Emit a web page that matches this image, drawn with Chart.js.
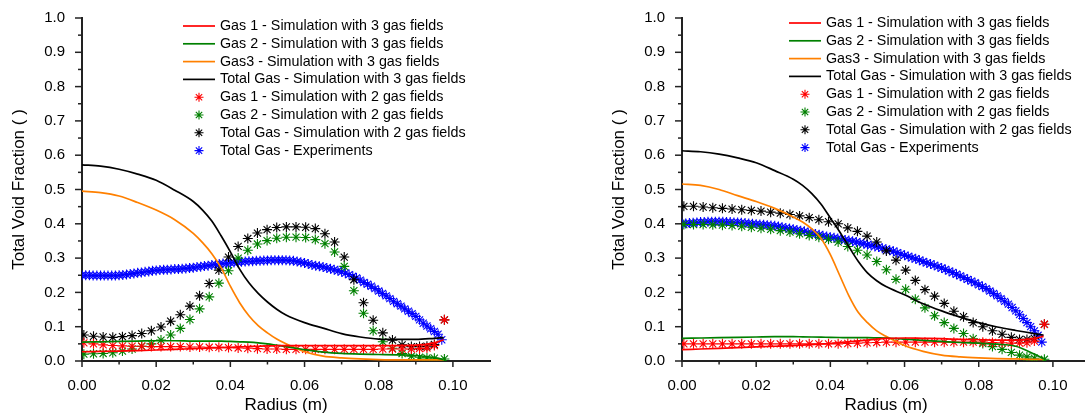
<!DOCTYPE html>
<html>
<head>
<meta charset="utf-8">
<script src="https://cdn.jsdelivr.net/npm/chart.js@4.4.1/dist/chart.umd.min.js"></script>
<style>
  html, body { margin: 0; padding: 0; background: #fff; overflow: hidden; width: 1085px; height: 414px; }
  canvas.panel { position: absolute; top: 0; }
</style>
</head>
<body>
<canvas id="left" class="panel" style="left:0px" width="500" height="414"></canvas>
<canvas id="right" class="panel" style="left:600px" width="500" height="414"></canvas>
<script>
// legend labels, same order in both panels
const seriesLabels = [
    "Gas 1 - Simulation with 3 gas fields",
    "Gas 2 - Simulation with 3 gas fields",
    "Gas3 - Simulation with 3 gas fields",
    "Total Gas - Simulation with 3 gas fields",
    "Gas 1 - Simulation with 2 gas fields",
    "Gas 2 - Simulation with 2 gas fields",
    "Total Gas - Simulation with 2 gas fields",
    "Total Gas - Experiments",
];

const xTicks = [0, 0.02, 0.04, 0.06, 0.08, 0.10];
const yTicks = [0, 0.1, 0.2, 0.3, 0.4, 0.5, 0.6, 0.7, 0.8, 0.9, 1.0];

// radial positions (m)
const radius3 = [0, 0.005, 0.01, 0.015, 0.02, 0.025, 0.03, 0.0325, 0.035, 0.0375, 0.04, 0.0425,
    0.045, 0.0475, 0.05, 0.0525, 0.055, 0.06, 0.065, 0.07, 0.075, 0.08, 0.085, 0.09, 0.095, 0.0975];
const radius2 = [0.0005, 0.0031, 0.0057, 0.0083, 0.0109, 0.0135, 0.0161, 0.0187, 0.0213, 0.0239,
    0.0265, 0.0291, 0.0317, 0.0343, 0.0369, 0.0395, 0.0421, 0.0447, 0.0473, 0.0499,
    0.0525, 0.0551, 0.0577, 0.0603, 0.0629, 0.0655, 0.0681, 0.0707, 0.0733, 0.0759,
    0.0785, 0.0811, 0.0837, 0.0863, 0.0888, 0.0910, 0.0930, 0.0950, 0.0977];
const radiusExp = [0, 0.001, 0.002, 0.003, 0.004, 0.005, 0.006, 0.007, 0.008, 0.009,
    0.010, 0.011, 0.012, 0.013, 0.014, 0.015, 0.016, 0.017, 0.018, 0.019,
    0.020, 0.021, 0.022, 0.023, 0.024, 0.025, 0.026, 0.027, 0.028, 0.029,
    0.030, 0.031, 0.032, 0.033, 0.034, 0.035, 0.036, 0.037, 0.038, 0.039,
    0.040, 0.041, 0.042, 0.043, 0.044, 0.045, 0.046, 0.047, 0.048, 0.049,
    0.050, 0.051, 0.052, 0.053, 0.054, 0.055, 0.056, 0.057, 0.058, 0.059,
    0.060, 0.061, 0.062, 0.063, 0.064, 0.065, 0.066, 0.067, 0.068, 0.069,
    0.070, 0.071, 0.072, 0.073, 0.074, 0.075, 0.076, 0.077, 0.078, 0.079,
    0.080, 0.081, 0.082, 0.083, 0.084, 0.085, 0.086, 0.087, 0.088, 0.089,
    0.090, 0.091, 0.092, 0.093, 0.094, 0.095, 0.096, 0.097];

// left panel
const leftGas1Sim3 = [0.027, 0.028, 0.029, 0.030, 0.032, 0.034, 0.036, 0.037, 0.038, 0.039, 0.040, 0.041,
    0.042, 0.043, 0.044, 0.0445, 0.045, 0.045, 0.045, 0.045, 0.045, 0.045, 0.045, 0.046, 0.053, 0.062];
const leftGas2Sim3 = [0.055, 0.056, 0.057, 0.058, 0.059, 0.059, 0.058, 0.058, 0.058, 0.058, 0.057, 0.056,
    0.055, 0.053, 0.050, 0.046, 0.042, 0.033, 0.026, 0.022, 0.020, 0.019, 0.018, 0.016, 0.010, 0.004];
const leftGas3Sim3 = [0.495, 0.491, 0.481, 0.462, 0.440, 0.412, 0.372, 0.345, 0.313, 0.272, 0.218, 0.170,
    0.132, 0.103, 0.082, 0.064, 0.050, 0.027, 0.014, 0.009, 0.006, 0.004, 0.003, 0.003, 0.003, 0.003];
const leftTotalSim3 = [0.572, 0.568, 0.559, 0.545, 0.527, 0.498, 0.465, 0.440, 0.408, 0.365, 0.318, 0.268,
    0.228, 0.197, 0.172, 0.151, 0.134, 0.112, 0.096, 0.080, 0.070, 0.064, 0.063, 0.063, 0.066, 0.068];
const leftGas1Sim2 = [0.053, 0.050, 0.047, 0.045, 0.044, 0.043, 0.043, 0.042, 0.042, 0.042,
    0.042, 0.041, 0.041, 0.040, 0.040, 0.039, 0.038, 0.037, 0.036, 0.035,
    0.035, 0.034, 0.034, 0.034, 0.034, 0.034, 0.034, 0.034, 0.034, 0.034,
    0.034, 0.035, 0.035, 0.035, 0.035, 0.036, 0.038, 0.045, 0.120];
const leftGas2Sim2 = [0.020, 0.021, 0.022, 0.024, 0.029, 0.035, 0.043, 0.050, 0.061, 0.076,
    0.095, 0.121, 0.152, 0.187, 0.227, 0.263, 0.300, 0.323, 0.341, 0.351,
    0.358, 0.361, 0.361, 0.360, 0.354, 0.342, 0.318, 0.276, 0.205, 0.139,
    0.088, 0.056, 0.037, 0.022, 0.014, 0.011, 0.009, 0.008, 0.006];
const leftTotalSim2 = [0.076, 0.072, 0.070, 0.069, 0.071, 0.074, 0.080, 0.088, 0.099, 0.116,
    0.135, 0.160, 0.190, 0.226, 0.265, 0.303, 0.334, 0.357, 0.373, 0.383,
    0.389, 0.391, 0.391, 0.390, 0.386, 0.371, 0.347, 0.303, 0.237, 0.170,
    0.119, 0.082, 0.061, 0.047, 0.042, 0.042, 0.043, 0.048, 0.120];
const leftTotalExp = [0.250, 0.250, 0.250, 0.249, 0.249, 0.249, 0.249, 0.249, 0.249, 0.249,
    0.250, 0.251, 0.252, 0.254, 0.255, 0.257, 0.258, 0.260, 0.261, 0.263,
    0.264, 0.265, 0.266, 0.266, 0.267, 0.268, 0.268, 0.269, 0.270, 0.271,
    0.272, 0.274, 0.275, 0.277, 0.278, 0.280, 0.281, 0.283, 0.284, 0.285,
    0.286, 0.287, 0.288, 0.289, 0.290, 0.291, 0.291, 0.292, 0.292, 0.293,
    0.293, 0.294, 0.294, 0.294, 0.294, 0.294, 0.293, 0.292, 0.290, 0.288,
    0.286, 0.283, 0.280, 0.278, 0.276, 0.274, 0.271, 0.269, 0.266, 0.263,
    0.260, 0.256, 0.252, 0.247, 0.242, 0.236, 0.229, 0.224, 0.218, 0.211,
    0.204, 0.197, 0.190, 0.182, 0.174, 0.167, 0.160, 0.152, 0.145, 0.138,
    0.130, 0.120, 0.110, 0.102, 0.094, 0.086, 0.078, 0.062];

// right panel
const rightGas1Sim3 = [0.033, 0.035, 0.037, 0.039, 0.041, 0.043, 0.045, 0.0465, 0.048, 0.0495, 0.051, 0.0535,
    0.056, 0.0585, 0.061, 0.064, 0.066, 0.067, 0.066, 0.065, 0.063, 0.062, 0.061, 0.061, 0.066, 0.072];
const rightGas2Sim3 = [0.066, 0.067, 0.068, 0.069, 0.070, 0.071, 0.071, 0.0705, 0.070, 0.0695, 0.069, 0.0685,
    0.068, 0.068, 0.068, 0.0675, 0.067, 0.064, 0.060, 0.057, 0.054, 0.052, 0.049, 0.043, 0.020, 0.006];
const rightGas3Sim3 = [0.516, 0.512, 0.500, 0.482, 0.465, 0.445, 0.420, 0.405, 0.385, 0.357, 0.310, 0.250,
    0.190, 0.142, 0.112, 0.088, 0.072, 0.045, 0.028, 0.017, 0.012, 0.009, 0.007, 0.006, 0.005, 0.005];
const rightTotalSim3 = [0.613, 0.610, 0.603, 0.592, 0.578, 0.555, 0.530, 0.512, 0.488, 0.457, 0.417, 0.377,
    0.333, 0.291, 0.257, 0.234, 0.217, 0.193, 0.167, 0.146, 0.128, 0.112, 0.099, 0.089, 0.080, 0.075];
const rightGas1Sim2 = [0.050, 0.050, 0.050, 0.050, 0.050, 0.050, 0.050, 0.050, 0.050, 0.050,
    0.050, 0.050, 0.050, 0.050, 0.050, 0.050, 0.050, 0.051, 0.052, 0.053,
    0.054, 0.055, 0.055, 0.055, 0.055, 0.055, 0.055, 0.055, 0.055, 0.055,
    0.055, 0.055, 0.054, 0.053, 0.052, 0.052, 0.053, 0.058, 0.107];
const rightGas2Sim2 = [0.398, 0.398, 0.398, 0.397, 0.396, 0.395, 0.393, 0.390, 0.387, 0.384,
    0.380, 0.376, 0.371, 0.366, 0.361, 0.355, 0.347, 0.334, 0.323, 0.309,
    0.290, 0.266, 0.238, 0.209, 0.180, 0.155, 0.132, 0.112, 0.095, 0.080,
    0.065, 0.051, 0.042, 0.034, 0.025, 0.017, 0.012, 0.008, 0.005];
const rightTotalSim2 = [0.451, 0.451, 0.449, 0.447, 0.445, 0.443, 0.441, 0.439, 0.437, 0.434,
    0.431, 0.427, 0.423, 0.418, 0.412, 0.406, 0.400, 0.388, 0.378, 0.364,
    0.347, 0.321, 0.294, 0.265, 0.235, 0.208, 0.189, 0.168, 0.145, 0.129,
    0.112, 0.100, 0.088, 0.078, 0.069, 0.063, 0.063, 0.066, 0.107];
const rightTotalExp = [0.400, 0.401, 0.402, 0.403, 0.404, 0.405, 0.405, 0.406, 0.406, 0.406,
    0.406, 0.406, 0.405, 0.405, 0.404, 0.404, 0.403, 0.402, 0.401, 0.400,
    0.399, 0.398, 0.397, 0.396, 0.395, 0.394, 0.392, 0.390, 0.388, 0.386,
    0.384, 0.382, 0.380, 0.378, 0.375, 0.373, 0.370, 0.368, 0.365, 0.363,
    0.361, 0.359, 0.357, 0.355, 0.353, 0.351, 0.349, 0.347, 0.344, 0.342,
    0.339, 0.337, 0.334, 0.332, 0.329, 0.326, 0.323, 0.320, 0.316, 0.312,
    0.308, 0.305, 0.301, 0.298, 0.294, 0.290, 0.286, 0.283, 0.279, 0.275,
    0.271, 0.267, 0.262, 0.258, 0.253, 0.248, 0.243, 0.238, 0.233, 0.228,
    0.222, 0.217, 0.211, 0.204, 0.197, 0.190, 0.182, 0.174, 0.166, 0.156,
    0.146, 0.135, 0.124, 0.112, 0.100, 0.088, 0.075, 0.055];

const FONT = '"Liberation Sans", Arial, sans-serif';
const RED = "#ff0000", GREEN = "#008000", ORANGE = "#ff8000", BLACK = "#000000", BLUE = "#0000ff";

function pts(xs, ys) {
    return ys.map((y, i) => ({ x: xs[i], y }));
}

function lineSet(label, xs, ys, color) {
    return {
        label, data: pts(xs, ys), showLine: true,
        borderColor: color, backgroundColor: color, borderWidth: 1.7,
        pointRadius: 0, cubicInterpolationMode: "monotone",
    };
}

function starSet(label, xs, ys, color) {
    return {
        label, data: pts(xs, ys), showLine: false,
        pointStyle: "star", pointRadius: 5, pointBorderWidth: 1.1,
        borderColor: color, backgroundColor: color,
    };
}

function drawStar(ctx, cx, cy, r) {
    ctx.beginPath();
    for (let k = 0; k < 4; k++) {
        const a = k * Math.PI / 4;
        ctx.moveTo(cx - r * Math.cos(a), cy - r * Math.sin(a));
        ctx.lineTo(cx + r * Math.cos(a), cy + r * Math.sin(a));
    }
    ctx.stroke();
}

// legend drawn inside the plot area
const insetLegend = {
    id: "insetLegend",
    afterDatasetsDraw(chart, args, opts) {
        const { ctx, chartArea } = chart;
        ctx.save();
        ctx.font = "14.3px " + FONT;
        ctx.textBaseline = "middle";
        chart.data.datasets.forEach((ds, i) => {
            const y = chartArea.top + opts.top + i * 17.8;
            const x0 = chartArea.left + opts.left;
            ctx.strokeStyle = ds.borderColor;
            if (ds.showLine) {
                ctx.lineWidth = 1.7;
                ctx.beginPath();
                ctx.moveTo(x0, y);
                ctx.lineTo(x0 + 32, y);
                ctx.stroke();
            } else {
                ctx.lineWidth = 1.1;
                drawStar(ctx, x0 + 16, y, 4.5);
            }
            ctx.fillStyle = "#000";
            ctx.fillText(ds.label, x0 + 37, y);
        });
        ctx.restore();
    },
};

// outward major/minor tick marks
const axisTicks = {
    id: "axisTicks",
    afterDraw(chart) {
        const { ctx, chartArea, scales: { x, y } } = chart;
        ctx.save();
        ctx.strokeStyle = "#222";
        ctx.lineWidth = 1.5;
        for (let i = 0; i <= 10; i++) {
            const px = x.getPixelForValue(i / 100);
            const len = i % 2 === 0 ? 6 : 3.5;
            ctx.beginPath();
            ctx.moveTo(px, chartArea.bottom);
            ctx.lineTo(px, chartArea.bottom + len);
            ctx.stroke();
        }
        for (let j = 0; j <= 20; j++) {
            const py = y.getPixelForValue(j / 20);
            const len = j % 2 === 0 ? 7 : 4;
            ctx.beginPath();
            ctx.moveTo(chartArea.left, py);
            ctx.lineTo(chartArea.left - len, py);
            ctx.stroke();
        }
        ctx.restore();
    },
};

function makePanel(id, sets, legendPos) {
    const datasets = [
        lineSet(seriesLabels[0], radius3, sets[0], RED),
        lineSet(seriesLabels[1], radius3, sets[1], GREEN),
        lineSet(seriesLabels[2], radius3, sets[2], ORANGE),
        lineSet(seriesLabels[3], radius3, sets[3], BLACK),
        starSet(seriesLabels[4], radius2, sets[4], RED),
        starSet(seriesLabels[5], radius2, sets[5], GREEN),
        starSet(seriesLabels[6], radius2, sets[6], BLACK),
        starSet(seriesLabels[7], radiusExp, sets[7], BLUE),
    ];

    return new Chart(document.getElementById(id), {
        type: "scatter",
        data: { datasets },
        options: {
            responsive: false,
            animation: false,
            devicePixelRatio: 1,
            layout: { padding: { top: 17, right: 10, left: 0, bottom: 0 } },
            plugins: {
                legend: { display: false },
                tooltip: { enabled: false },
                insetLegend: legendPos,
            },
            scales: {
                x: {
                    type: "linear",
                    min: 0,
                    max: 0.11,
                    afterBuildTicks: (s) => { s.ticks = xTicks.map((value) => ({ value })); },
                    afterFit: (s) => { s.height = 53; },
                    grid: { display: false },
                    border: { display: true, color: "#222", width: 2 },
                    ticks: {
                        padding: 8, color: "#000", autoSkip: false, maxRotation: 0,
                        font: { size: 15, family: FONT },
                        callback: (v) => Number(v).toFixed(2),
                    },
                    title: {
                        display: true, text: "Radius (m)", color: "#000",
                        font: { size: 17, family: FONT },
                        padding: { top: 0, bottom: -2 },
                    },
                },
                y: {
                    type: "linear",
                    min: 0,
                    max: 1,
                    afterBuildTicks: (s) => { s.ticks = yTicks.map((value) => ({ value })); },
                    afterFit: (s) => { s.width = 82; },
                    grid: { display: false },
                    border: { display: true, color: "#222", width: 2 },
                    ticks: {
                        padding: 9, color: "#000", autoSkip: false,
                        font: { size: 15, family: FONT },
                        callback: (v) => Number(v).toFixed(1),
                    },
                    title: {
                        display: true, text: "Total Void Fraction ( )", color: "#000",
                        font: { size: 17, family: FONT },
                        padding: { top: 9, bottom: 0 },
                    },
                },
            },
        },
        plugins: [axisTicks, insetLegend],
    });
}

makePanel("left", [leftGas1Sim3, leftGas2Sim3, leftGas3Sim3, leftTotalSim3,
    leftGas1Sim2, leftGas2Sim2, leftTotalSim2, leftTotalExp], { left: 101, top: 8 });
makePanel("right", [rightGas1Sim3, rightGas2Sim3, rightGas3Sim3, rightTotalSim3,
    rightGas1Sim2, rightGas2Sim2, rightTotalSim2, rightTotalExp], { left: 107, top: 5 });
</script>
</body>
</html>
